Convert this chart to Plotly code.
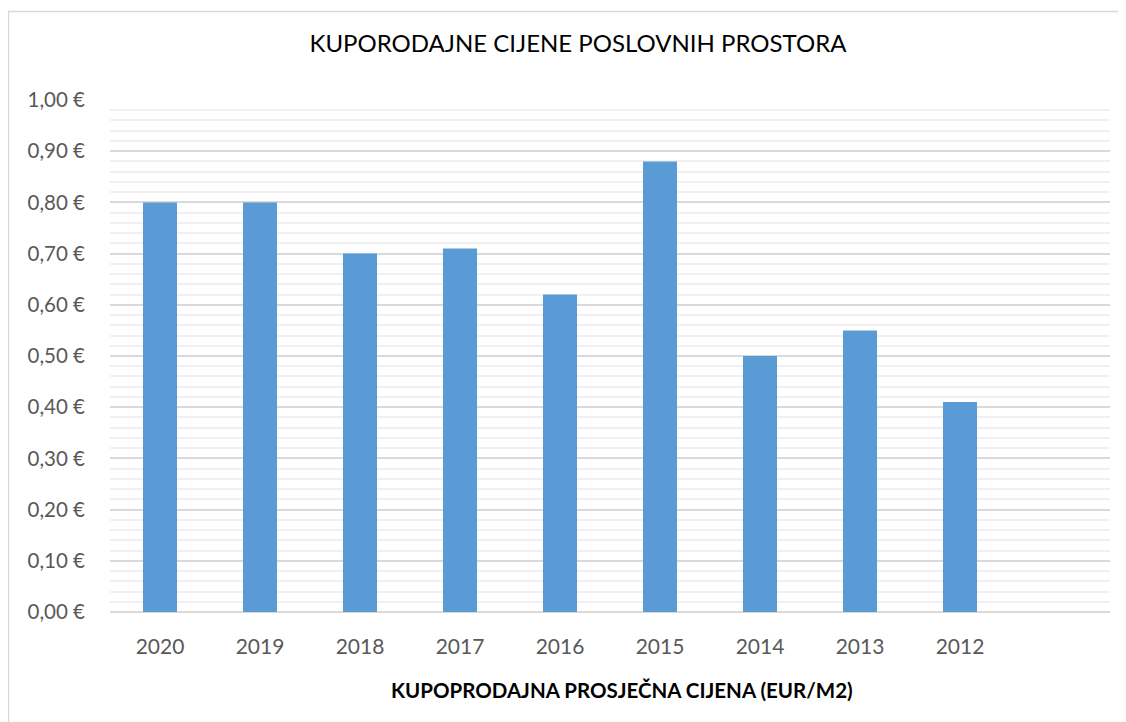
import plotly.graph_objects as go

years = ["2020", "2019", "2018", "2017", "2016", "2015", "2014", "2013", "2012"]
prices = [0.80, 0.80, 0.70, 0.71, 0.62, 0.88, 0.50, 0.55, 0.41]
y_ticks = [0.0, 0.1, 0.2, 0.3, 0.4, 0.5, 0.6, 0.7, 0.8, 0.9, 1.0]
y_labels = ["0,00 €", "0,10 €", "0,20 €", "0,30 €", "0,40 €", "0,50 €",
            "0,60 €", "0,70 €", "0,80 €", "0,90 €", "1,00 €"]

xpos = list(range(len(years)))

fig = go.Figure(go.Bar(
    x=xpos, y=prices, width=0.34,
    marker=dict(color="#5B9BD5", line=dict(width=0)),
    hovertemplate="%{y:.2f} €<extra></extra>",
))

FONT = "Lato, 'Open Sans', sans-serif"
# page has 8px body margin; figure coordinates below are relative to the figure
W, H = 1118, 714
L, T = 102, 92
pw, ph = 1000, 512
R, B = W - L - pw, H - T - ph

def px(x):
    return (x - L) / pw

def py(y):
    return (H - B - y) / ph

fig.update_layout(
    width=W, height=H,
    margin=dict(l=L, r=R, t=T, b=B),
    paper_bgcolor="white", plot_bgcolor="white",
    showlegend=False,
    font=dict(family=FONT, color="#595959"),
    title=dict(text="KUPORODAJNE CIJENE POSLOVNIH PROSTORA",
               x=px(570), xref="paper", xanchor="center",
               y=1 - 36 / H, yanchor="middle",
               font=dict(family=FONT, size=24, color="black")),
    xaxis=dict(
        range=[-0.5, 9.5], tickvals=xpos, ticktext=years,
        showgrid=False, zeroline=False, showline=False, ticks="",
        tickfont=dict(size=21, color="#595959"),
        ticklabelstandoff=20,
    ),
    yaxis=dict(
        range=[0, 1.0], tickvals=y_ticks, ticktext=y_labels,
        showgrid=True, gridcolor="#D9D9D9", gridwidth=1.5,
        zeroline=True, zerolinecolor="#D9D9D9", zerolinewidth=1.5,
        showline=False, ticks="",
        tickfont=dict(size=20.5, color="#595959"),
        ticklabelstandoff=24,
        minor=dict(dtick=0.02, showgrid=True, gridcolor="#F0F0F0", gridwidth=1.5),
    ),
    annotations=[dict(text="<b>KUPOPRODAJNA PROSJEČNA CIJENA (EUR/M2)</b>",
                      xref="paper", yref="paper", x=px(614), y=py(682),
                      xanchor="center", yanchor="middle", showarrow=False,
                      font=dict(family=FONT, size=20.5, color="black"))],
    shapes=[dict(type="path", xref="paper", yref="paper",
                 path=f"M {px(0.5)},{py(H + 5)} L {px(0.5)},{py(3.5)} L {px(W + 5)},{py(3.5)}",
                 line=dict(color="#D9D9D9", width=1.5), layer="above")],
)

fig.write_html("out.html")
